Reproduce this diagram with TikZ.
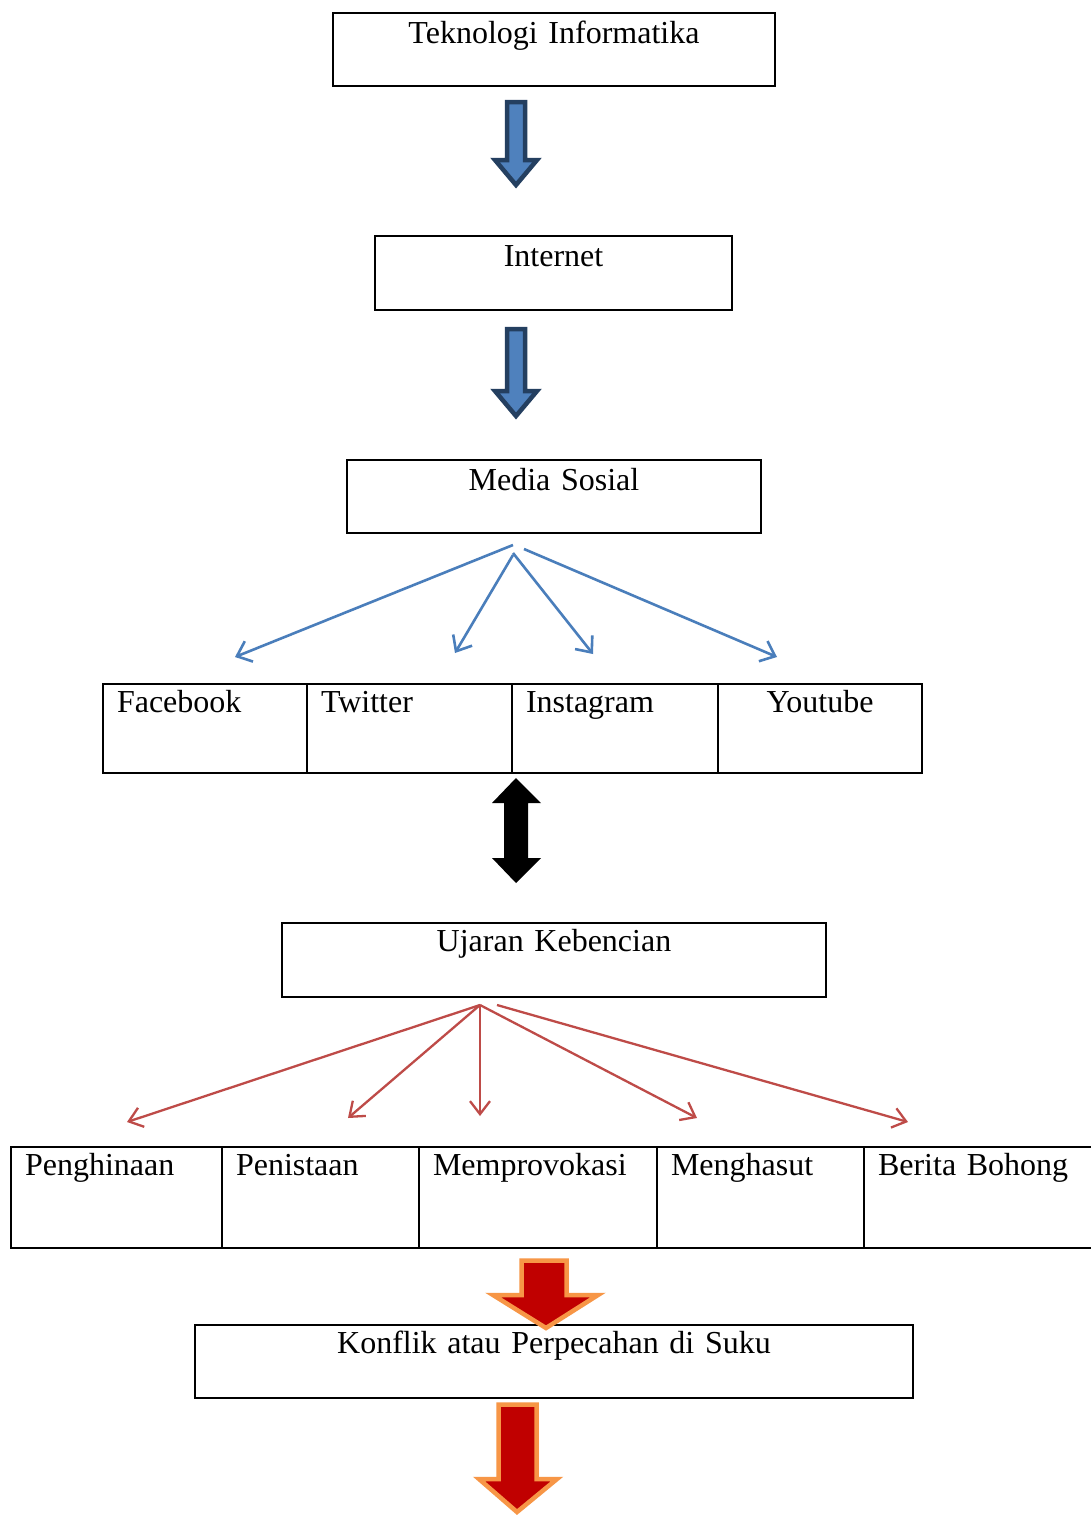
\documentclass[tikz,border=0pt]{standalone}
\usepackage{fontspec}
\newfontfamily\dfont{Liberation Serif}
\usetikzlibrary{arrows.meta}
\definecolor{bluefill}{HTML}{4F81BD}
\definecolor{blueedge}{HTML}{243F60}
\definecolor{bluethin}{HTML}{4A7EBB}
\definecolor{redthin}{HTML}{BE4B48}
\definecolor{redfill}{HTML}{C00000}
\definecolor{orangeedge}{HTML}{F79646}
\newcommand\txt{\dfont\fontsize{32}{38}\selectfont}
\tikzset{
  cbox/.style={draw, line width=2pt, inner sep=0pt, anchor=north west, font=\txt, align=center},
  lbox/.style={draw, line width=2pt, inner ysep=0pt, inner xsep=14pt, anchor=north west, font=\txt, align=left},
  bluearrow/.style={draw=blueedge, fill=bluefill, line width=4.5pt, line join=miter},
  redarrow/.style={draw=orangeedge, fill=redfill, line width=4.5pt, line join=miter},
  bluecon/.style={draw=bluethin, line width=2.6pt, -{Straight Barb[length=13pt,width=22pt]}},
  redcon/.style={draw=redthin, line width=2.3pt, -{Straight Barb[length=13pt,width=20pt]}}
}
\begin{document}
\begin{tikzpicture}[x=1pt,y=-1pt]
\useasboundingbox[fill=white] (0,0) rectangle (1091,1516);

% boxes
\node[cbox, text width=442pt, text height=30pt, text depth=43pt] (tek) at (332,12) {Teknologi Informatika};
\node[cbox, text width=357pt, text height=30pt, text depth=44pt] (inet) at (374,235) {Internet};
\node[cbox, text width=414pt, text height=30pt, text depth=43pt] (ms) at (346,459) {Media Sosial};

\node[lbox, text width=176pt, text height=28pt, text depth=61pt] (fb) at (102,683) {Facebook};
\node[lbox, text width=177pt, text height=28pt, text depth=61pt] (tw) at (306,683) {Twitter};
\node[lbox, text width=178pt, text height=28pt, text depth=61pt] (ig) at (511,683) {Instagram};
\node[cbox, text width=204pt, text height=28pt, text depth=61pt] (yt) at (717,683) {Youtube};

\node[cbox, text width=544pt, text height=28pt, text depth=46pt] (uk) at (281,922) {Ujaran Kebencian};

\node[lbox, text width=183pt, text height=28pt, text depth=73pt] (p1) at (10,1146) {Penghinaan};
\node[lbox, text width=169pt, text height=28pt, text depth=73pt] (p2) at (221,1146) {Penistaan};
\node[lbox, text width=210pt, text height=28pt, text depth=73pt] (p3) at (418,1146) {Memprovokasi};
\node[lbox, text width=179pt, text height=28pt, text depth=73pt] (p4) at (656,1146) {Menghasut};
\node[lbox, text width=212pt, text height=28pt, text depth=73pt] (p5) at (863,1146) {Berita Bohong};

\node[cbox, text width=718pt, text height=28pt, text depth=45pt] (kon) at (194,1324) {Konflik atau Perpecahan di Suku};

% block arrows
\draw[bluearrow] (507,102) -- (525,102) -- (525,160) -- (537,160) -- (516,185) -- (495,160) -- (507,160) -- cycle;
\draw[bluearrow] (507,329) -- (525,329) -- (525,391) -- (537,391) -- (516,416) -- (495,391) -- (507,391) -- cycle;
\fill[black] (516,778) -- (541,803) -- (528,803) -- (528,858) -- (541,858) -- (516,883) -- (492,858) -- (504,858) -- (504,803) -- (492,803) -- cycle;
\draw[redarrow] (521.5,1260.5) -- (566.5,1260.5) -- (566.5,1295) -- (598,1295) -- (546,1328) -- (493,1295) -- (521.5,1295) -- cycle;
\draw[redarrow] (498.5,1404.5) -- (536.5,1404.5) -- (536.5,1479) -- (557,1479) -- (517,1512) -- (479,1479) -- (498.5,1479) -- cycle;

% thin connectors: Media Sosial
\coordinate (msa) at (513,545);
\coordinate (msb) at (513,555);
\coordinate (msc) at (513,553);
\coordinate (msd) at (524,549);
\coordinate (fbt) at (235,657);
\coordinate (twt) at (455,653);
\coordinate (igt) at (593,654);
\coordinate (ytt) at (777,657);
\draw[bluecon] (msa) -- (fbt);
\draw[bluecon] (msb) -- (twt);
\draw[bluecon] (msc) -- (igt);
\draw[bluecon] (msd) -- (ytt);

% thin connectors: Ujaran Kebencian
\coordinate (uka) at (480,1005);
\coordinate (ukb) at (497,1005);
\coordinate (p1t) at (127,1122);
\coordinate (p2t) at (348,1118);
\coordinate (p3t) at (480,1116);
\coordinate (p4t) at (697,1118);
\coordinate (p5t) at (908,1122);
\draw[redcon] (uka) -- (p1t);
\draw[redcon] (uka) -- (p2t);
\draw[redcon] (uka) -- (p3t);
\draw[redcon] (uka) -- (p4t);
\draw[redcon] (ukb) -- (p5t);
\end{tikzpicture}
\end{document}
